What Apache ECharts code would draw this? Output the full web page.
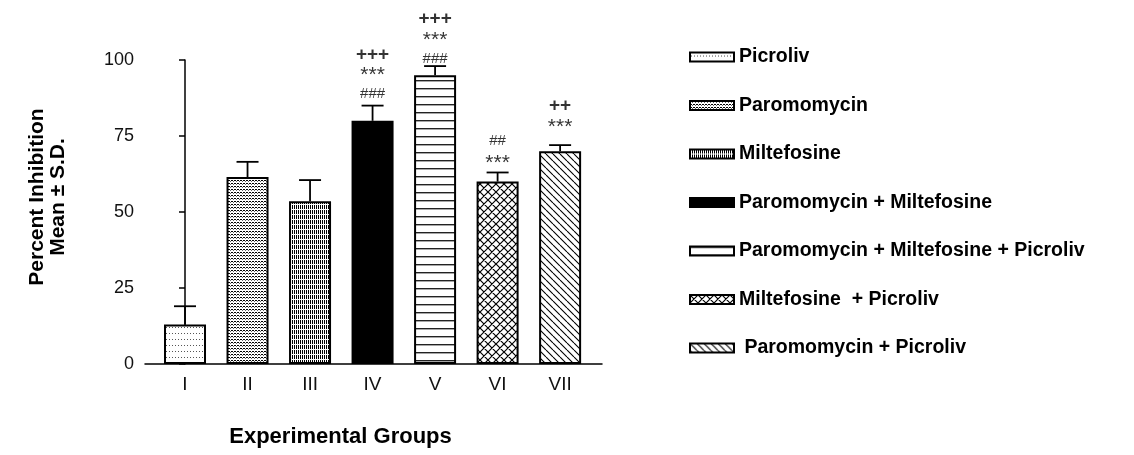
<!DOCTYPE html>
<html>
<head>
<meta charset="utf-8">
<script src="https://cdn.jsdelivr.net/npm/echarts@6/dist/echarts.min.js"></script>
<style>
  html, body { margin: 0; padding: 0; background: #fff; }
  #chart { width: 1134px; height: 455px; }
</style>
</head>
<body>
<div id="chart"></div>
<script>
// Experimental groups and their treatments
const groups = ['I', 'II', 'III', 'IV', 'V', 'VI', 'VII'];
const treatments = [
  'Picroliv',
  'Paromomycin',
  'Miltefosine',
  'Paromomycin + Miltefosine',
  'Paromomycin + Miltefosine + Picroliv',
  'Miltefosine  + Picroliv',
  ' Paromomycin + Picroliv'
];
// Percent inhibition (mean) and standard deviation per group
const meanInhibition = [13, 61.5, 53.5, 80, 95, 60, 70];
const sdInhibition = [6, 5, 7, 5, 3, 3, 2];
// Significance markers above each bar (top line first)
const markers = ['', '', '', '+++\n***\n###', '+++\n***\n###', '##\n***', '++\n***'];
const yTicks = [0, 25, 50, 75, 100];

const FONT = '"Liberation Sans", Arial, sans-serif';
// Extra vertical nudge (px) of each marker block above its error cap
const markerNudge = [0, 0, 0, 0, 4, 0, -9];

// Small repeating fill patterns for the bars
function makePattern(w, h, draw) {
  const c = document.createElement('canvas');
  c.width = w; c.height = h;
  const ctx = c.getContext('2d');
  ctx.fillStyle = '#fff';
  ctx.fillRect(0, 0, w, h);
  ctx.fillStyle = '#000';
  ctx.strokeStyle = '#000';
  draw(ctx, w, h);
  return { image: c, repeat: 'repeat' };
}
const fills = [
  // sparse dotted rows
  makePattern(3, 6, ctx => { ctx.fillStyle = '#555'; ctx.fillRect(1, 3, 1, 1); }),
  // dense dashed rows
  makePattern(3, 3, ctx => { ctx.fillRect(0, 0, 2, 1); ctx.fillStyle = '#666'; ctx.fillRect(2, 1, 1, 1); }),
  // short vertical strokes in rows
  makePattern(2, 5, ctx => { ctx.fillRect(0, 0, 1, 4); }),
  // solid
  '#000',
  // horizontal lines
  makePattern(1, 8, ctx => { ctx.fillStyle = '#222'; ctx.fillRect(0, 0, 1, 1.4); }),
  // crosshatch
  makePattern(8, 8, ctx => {
    ctx.lineWidth = 1.2;
    ctx.beginPath();
    for (const k of [-8, 0, 8]) {
      ctx.moveTo(k, 0); ctx.lineTo(k + 8, 8);
      ctx.moveTo(k + 8, 0); ctx.lineTo(k, 8);
    }
    ctx.stroke();
  }),
  // back-diagonal lines
  makePattern(7, 7, ctx => {
    ctx.lineWidth = 1.1;
    ctx.beginPath();
    for (const k of [-7, 0, 7]) { ctx.moveTo(k, 0); ctx.lineTo(k + 7, 7); }
    ctx.stroke();
  })
];

const barSeries = treatments.map((name, i) => ({
  name: name,
  type: 'bar',
  barWidth: 42,
  barGap: '-100%',
  data: [[i, meanInhibition[i]]],
  itemStyle: { color: fills[i], borderColor: '#000', borderWidth: 2 },
  emphasis: { disabled: true },
  z: 2
}));

const errorSeries = {
  type: 'custom',
  name: 'sd',
  data: groups.map((g, i) => [i, meanInhibition[i], sdInhibition[i]]),
  renderItem: function (params, api) {
    const x = api.value(0);
    const base = api.coord([x, api.value(1)]);
    const top = api.coord([x, api.value(1) + api.value(2)]);
    const style = { stroke: '#000', lineWidth: 1.8 };
    return {
      type: 'group',
      children: [
        { type: 'line', shape: { x1: base[0], y1: base[1], x2: top[0], y2: top[1] }, style: style },
        { type: 'line', shape: { x1: top[0] - 11, y1: top[1], x2: top[0] + 11, y2: top[1] }, style: style }
      ]
    };
  },
  z: 3
};

const markerSeries = {
  type: 'scatter',
  name: 'markers',
  symbolSize: 0,
  data: groups.map((g, i) => ({
    value: [i, meanInhibition[i] + sdInhibition[i]],
    label: { offset: [0, markerNudge[i]] }
  })),
  label: {
    show: true,
    position: 'top',
    distance: 1,
    formatter: function (p) {
      const text = markers[p.dataIndex];
      if (!text) return '';
      return text.split('\n').map(line => {
        if (line.startsWith('+')) return '{p|' + line + '}';
        if (line.startsWith('*')) return '{s|' + line + '}';
        return '{h|' + line + '}';
      }).join('\n');
    },
    rich: {
      p: { fontFamily: FONT, fontWeight: 'bold', fontSize: 19, lineHeight: 18, color: '#000' },
      s: { fontFamily: FONT, fontSize: 21, lineHeight: 20, color: '#000', padding: [4, 0, 0, 0] },
      h: { fontFamily: FONT, fontSize: 15, lineHeight: 21, color: '#000' }
    }
  },
  emphasis: { disabled: true },
  z: 4
};

const chart = echarts.init(document.getElementById('chart'), null, { renderer: 'canvas' });
chart.setOption({
  animation: false,
  backgroundColor: '#fff',
  grid: { left: 145, right: 532, top: 60, bottom: 91, containLabel: false },
  legend: {
    data: treatments,
    orient: 'vertical',
    left: 684,
    top: 41,
    icon: 'rect',
    itemWidth: 44,
    itemHeight: 9,
    itemGap: 26.5,
    selectedMode: false,
    textStyle: { fontFamily: FONT, fontWeight: 'bold', fontSize: 19.5, color: '#000', lineHeight: 22 }
  },
  xAxis: {
    type: 'value',
    min: -0.64,
    max: 6.67,
    name: 'Experimental Groups',
    nameLocation: 'middle',
    nameGap: 62,
    nameTextStyle: { fontFamily: FONT, fontWeight: 'bold', fontSize: 22, color: '#000', padding: [0, 66, 0, 0] },
    axisLine: { lineStyle: { color: '#000', width: 1.5 } },
    axisTick: { show: false },
    splitLine: { show: false },
    axisLabel: {
      customValues: [0, 1, 2, 3, 4, 5, 6],
      formatter: v => groups[Math.round(v)],
      fontFamily: FONT, fontSize: 19, color: '#111', margin: 11
    }
  },
  yAxis: {
    type: 'value',
    min: 0,
    max: 100,
    interval: 25,
    name: 'Percent Inhibition\nMean ± S.D.',
    nameLocation: 'middle',
    nameRotate: 90,
    nameGap: 76,
    nameTextStyle: { fontFamily: FONT, fontWeight: 'bold', fontSize: 21, color: '#000', lineHeight: 21, padding: [0, 0, 0, 30] },
    axisLine: { show: true, lineStyle: { color: '#000', width: 1.5 } },
    axisTick: { show: true, length: 6, lineStyle: { color: '#000', width: 1.5 } },
    splitLine: { show: false },
    axisLabel: {
      formatter: v => (yTicks.includes(v) ? String(v) : ''),
      fontFamily: FONT, fontSize: 18, color: '#111', margin: 11
    }
  },
  series: [...barSeries, errorSeries, markerSeries]
});
</script>
</body>
</html>
